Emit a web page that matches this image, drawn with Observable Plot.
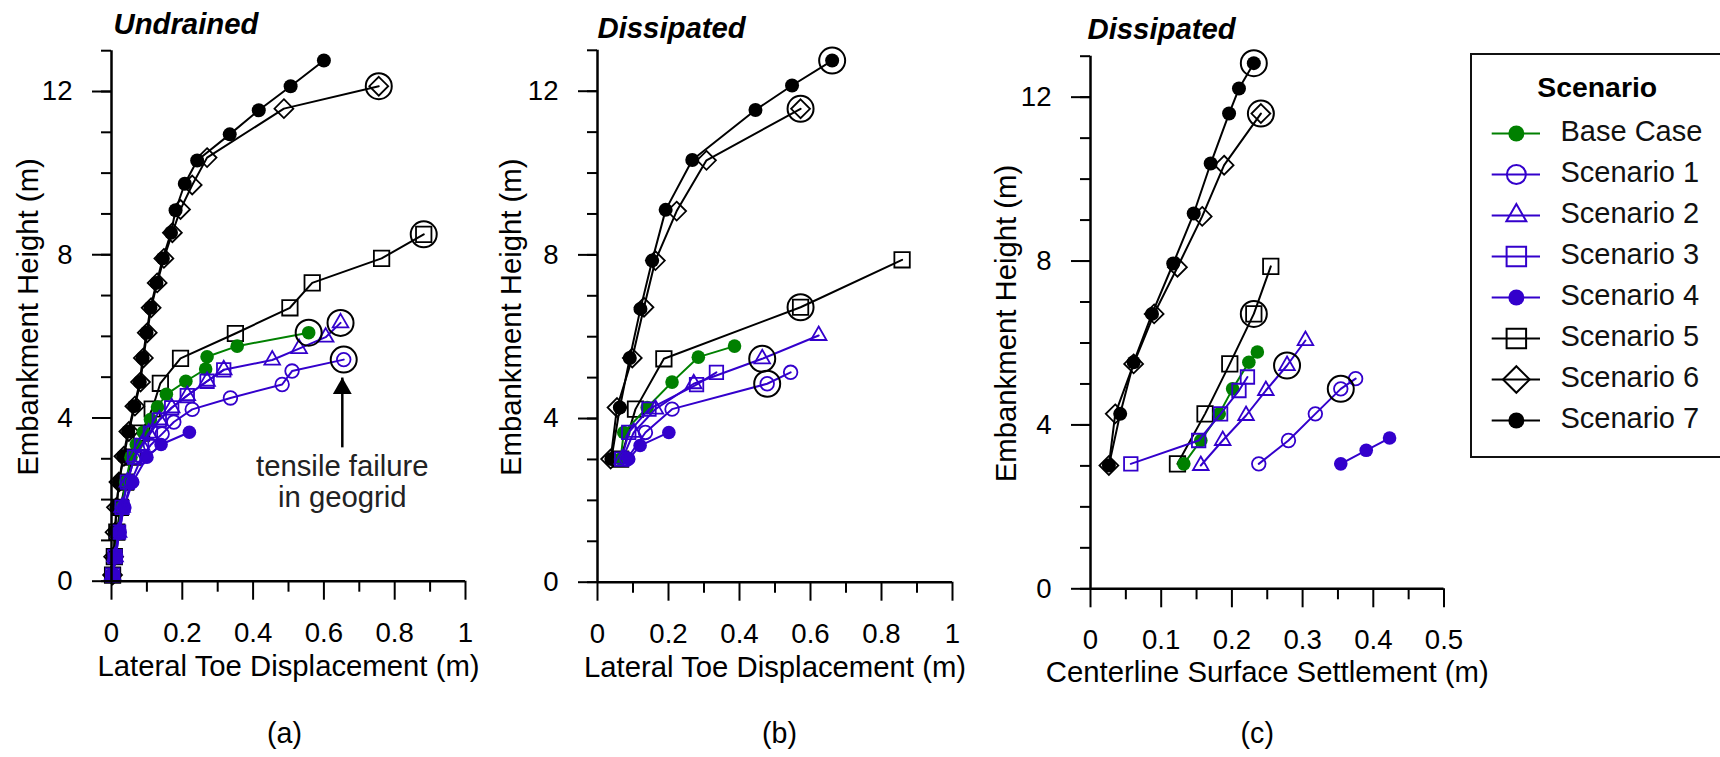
<!DOCTYPE html>
<html>
<head>
<meta charset="utf-8">
<script src="https://cdn.jsdelivr.net/npm/d3@7"></script>
<script src="https://cdn.jsdelivr.net/npm/@observablehq/plot@0.6"></script>
<style>
html, body { margin: 0; padding: 0; background: #fff; overflow: hidden; }
#chart { position: relative; width: 1720px; height: 757px; overflow: hidden; font-family: "Liberation Sans", Arial, sans-serif; }
#chart svg { position: absolute; top: 0; }
#legendBox { position: absolute; left: 1470px; top: 53px; width: 256px; height: 405px; border: 2px solid #111; box-sizing: border-box; }
</style>
</head>
<body>
<div id="chart"><div id="legendBox"></div></div>
<script>
// ---------- categories ----------
const names = ["Base Case", "Scenario 1", "Scenario 2", "Scenario 3", "Scenario 4", "Scenario 5", "Scenario 6", "Scenario 7"];
const colors = ["#008000", "#3300cc", "#3300cc", "#3300cc", "#3300cc", "#000000", "#000000", "#000000"];
const symbols = ["circle", "circle", "triangle", "square", "circle", "square", "diamond2", "circle"];
const filled = [true, false, false, false, true, false, false, true];
const drawOrder = [7, 6, 5, 0, 4, 3, 2, 1];

// ---------- (a) Undrained: lateral toe displacement (m) vs embankment height (m) ----------
const toeUndrained = [
  [[0.003,0.15],[0.01,0.6],[0.018,1.2],[0.028,1.81],[0.04,2.43],[0.055,3.04],[0.07,3.35],[0.09,3.65],[0.11,3.96],[0.13,4.27],[0.155,4.58],[0.21,4.9],[0.266,5.2],[0.27,5.5],[0.355,5.76],[0.557,6.09]],
  [[0.004,0.15],[0.012,0.6],[0.022,1.2],[0.035,1.81],[0.055,2.43],[0.085,3.04],[0.11,3.33],[0.143,3.61],[0.176,3.9],[0.228,4.21],[0.336,4.49],[0.482,4.82],[0.51,5.15],[0.656,5.43]],
  [[0.003,0.15],[0.01,0.6],[0.02,1.2],[0.03,1.81],[0.045,2.43],[0.065,3.04],[0.085,3.33],[0.105,3.63],[0.135,3.95],[0.17,4.25],[0.214,4.55],[0.27,4.9],[0.317,5.18],[0.454,5.42],[0.53,5.7],[0.605,5.98],[0.647,6.33]],
  [[0.003,0.15],[0.01,0.6],[0.02,1.2],[0.03,1.81],[0.045,2.43],[0.065,3.04],[0.085,3.33],[0.11,3.63],[0.135,3.95],[0.17,4.25],[0.214,4.55],[0.27,4.9],[0.317,5.18]],
  [[0.004,0.15],[0.012,0.6],[0.022,1.2],[0.035,1.81],[0.06,2.43],[0.1,3.04],[0.14,3.35],[0.22,3.65]],
  [[0.003,0.15],[0.008,0.6],[0.015,1.2],[0.025,1.81],[0.04,2.43],[0.06,3.04],[0.085,3.63],[0.115,4.22],[0.138,4.85],[0.195,5.46],[0.35,6.07],[0.504,6.7],[0.567,7.31],[0.763,7.91],[0.882,8.5]],
  [[0.003,0.15],[0.006,0.6],[0.01,1.2],[0.014,1.81],[0.021,2.43],[0.035,3.06],[0.049,3.67],[0.066,4.29],[0.082,4.88],[0.09,5.47],[0.101,6.09],[0.112,6.7],[0.129,7.31],[0.148,7.91],[0.172,8.54],[0.195,9.11],[0.228,9.71],[0.27,10.38],[0.487,11.58],[0.755,12.13]],
  [[0.003,0.15],[0.006,0.6],[0.01,1.2],[0.014,1.81],[0.021,2.43],[0.033,3.06],[0.047,3.67],[0.064,4.29],[0.08,4.88],[0.088,5.47],[0.099,6.09],[0.11,6.7],[0.127,7.31],[0.145,7.91],[0.168,8.54],[0.181,9.09],[0.207,9.74],[0.242,10.31],[0.334,10.95],[0.416,11.54],[0.506,12.13],[0.6,12.76]]
];
const failToeUndrained = [[0.755,12.13],[0.882,8.5],[0.557,6.09],[0.647,6.33],[0.656,5.43]];
const noteText = ["tensile failure\nin geogrid"];
const notePos = [0.652, 1.81];
const noteArrow = [0.652, 3.28, 4.99];

// ---------- (b) Dissipated: lateral toe displacement ----------
const toeDissipated = [
  [[0.065,3.01],[0.074,3.66],[0.14,4.27],[0.21,4.89],[0.284,5.5],[0.386,5.77]],
  [[0.083,3.01],[0.135,3.66],[0.21,4.23],[0.478,4.85],[0.544,5.13]],
  [[0.07,3.01],[0.102,3.66],[0.163,4.23],[0.271,4.85],[0.464,5.46],[0.623,6.03]],
  [[0.068,3.01],[0.088,3.66],[0.145,4.23],[0.279,4.83],[0.335,5.13]],
  [[0.088,3.01],[0.12,3.34],[0.201,3.66]],
  [[0.065,3.01],[0.107,4.23],[0.187,5.46],[0.572,6.72],[0.858,7.88]],
  [[0.037,3.01],[0.055,4.27],[0.098,5.48],[0.131,6.72],[0.163,7.86],[0.223,9.07],[0.307,10.31],[0.572,11.57]],
  [[0.039,3.01],[0.063,4.27],[0.091,5.48],[0.121,6.68],[0.154,7.86],[0.192,9.1],[0.267,10.32],[0.445,11.54],[0.548,12.14],[0.661,12.75]]
];
const failToeDissipated = [[0.661,12.75],[0.572,11.57],[0.572,6.72],[0.464,5.46],[0.478,4.85]];

// ---------- (c) Dissipated: centerline surface settlement ----------
const settleDissipated = [
  [[0.132,3.05],[0.156,3.62],[0.182,4.27],[0.201,4.88],[0.224,5.53],[0.236,5.78]],
  [[0.238,3.05],[0.28,3.62],[0.318,4.27],[0.354,4.88],[0.375,5.13]],
  [[0.156,3.01],[0.187,3.62],[0.22,4.23],[0.248,4.84],[0.278,5.45],[0.304,6.06]],
  [[0.057,3.05],[0.153,3.62],[0.184,4.27],[0.21,4.84],[0.222,5.17]],
  [[0.354,3.05],[0.39,3.38],[0.423,3.68]],
  [[0.123,3.05],[0.162,4.27],[0.197,5.49],[0.231,6.71],[0.255,7.87]],
  [[0.026,3.01],[0.035,4.27],[0.061,5.49],[0.09,6.71],[0.123,7.85],[0.158,9.09],[0.189,10.34],[0.241,11.6]],
  [[0.026,3.01],[0.042,4.27],[0.061,5.53],[0.087,6.71],[0.117,7.94],[0.146,9.16],[0.17,10.38],[0.196,11.6],[0.21,12.21],[0.231,12.83]]
];
const failSettleDissipated = [[0.231,12.83],[0.241,11.6],[0.231,6.71],[0.278,5.45],[0.354,4.88]];

// ---------- tick labels ----------
const yMajor = [0, 4, 8, 12];
const yMinor = [0,1,2,3,4,5,6,7,8,9,10,11,12,13];
const toeMajor = [0, 0.2, 0.4, 0.6, 0.8, 1];
const toeMinor = [0.1, 0.3, 0.5, 0.7, 0.9];
const settleMajor = [0, 0.1, 0.2, 0.3, 0.4, 0.5];
const settleMinor = [0.05, 0.15, 0.25, 0.35, 0.45];

const plotR = [6.8, 6.8, 5.8, 7.6, 6.8, 8.7, 8.5, 7];
const legendR = [8, 9.5, 7.4, 11, 8, 11, 12, 8];
const FONT = "'Liberation Sans', Arial, sans-serif";
const TXT = 29.3, TICK = 27.6;

function seriesMarks(series) {
  const marks = [];
  for (const i of drawOrder) {
    const pts = series[i].map(([x, y]) => ({x, y}));
    marks.push(Plot.line(pts, {x: "x", y: "y", stroke: colors[i], strokeWidth: 2}));
    marks.push(Plot.dot(pts, {
      x: "x", y: "y", symbol: symbols[i], r: plotR[i],
      stroke: colors[i], strokeWidth: filled[i] ? 0 : 1.8,
      fill: filled[i] ? colors[i] : "none"
    }));
  }
  return marks;
}

function panel(o) {
  const svg = Plot.plot({
    width: o.width, height: 757,
    marginLeft: o.mL, marginRight: o.mR, marginTop: o.mT, marginBottom: 757 - o.y0,
    x: {domain: o.xDomain, label: null},
    y: {domain: [0, 13], label: null},
    style: {background: "transparent", overflow: "visible", fontFamily: FONT, fontSize: TICK + "px", color: "black"},
    marks: [
      ...seriesMarks(o.series),
      Plot.dot(o.fails.map(([x, y]) => ({x, y})), {x: "x", y: "y", r: 13, stroke: "black", strokeWidth: 2, fill: "none"}),
      ...(o.extra || []),
      Plot.axisY({ticks: yMinor, tickSize: 10, tickFormat: () => "", label: null, strokeWidth: 2}),
      Plot.axisY({ticks: yMajor, tickSize: 19, tickPadding: 20, tickFormat: d => String(d), label: null, fontSize: TICK, strokeWidth: 2}),
      Plot.axisX({ticks: o.xMinor, tickSize: 11, tickFormat: () => "", label: null, strokeWidth: 2}),
      Plot.axisX({ticks: o.xMajor, tickSize: 19, tickPadding: 22, tickFormat: d => String(d), label: null, fontSize: TICK, strokeWidth: 2}),
      Plot.ruleX([0], {y1: 0, y2: 13, strokeWidth: 2.5}),
      Plot.ruleY([0], {x1: o.xDomain[0], x2: o.xDomain[1], strokeWidth: 2.5}),
      Plot.text([o.title], {text: d => d, frameAnchor: "top-left", dx: o.titleDx, dy: o.titleDy, textAnchor: "start", lineAnchor: "bottom", fontWeight: "bold", fontStyle: "italic", fontSize: TXT}),
      Plot.text(["Embankment Height (m)"], {text: d => d, frameAnchor: "left", rotate: -90, dx: o.yLabDx, dy: 1, textAnchor: "middle", lineAnchor: "bottom", fontSize: TXT}),
      Plot.text([o.xLabel], {text: d => d, frameAnchor: "bottom", dy: o.xLabDy, textAnchor: "middle", lineAnchor: "bottom", fontSize: TXT}),
      Plot.text([o.tag], {text: d => d, frameAnchor: "bottom", dx: o.tagDx, dy: o.tagDy, textAnchor: "middle", lineAnchor: "bottom", fontSize: 28.6})
    ]
  });
  svg.style.left = o.left + "px";
  return svg;
}

const chart = document.getElementById("chart");

chart.appendChild(panel({
  series: toeUndrained, fails: failToeUndrained,
  left: 0, width: 490, mL: 111, mR: 25, mT: 50.2, y0: 580.7,
  xDomain: [0, 1], xMajor: toeMajor, xMinor: toeMinor,
  title: "Undrained", titleDx: 2, titleDy: -17.2,
  yLabDx: -74, xLabel: "Lateral Toe Displacement (m)", xLabDy: 95, tag: "(a)", tagDx: -4, tagDy: 162,
  extra: [
    Plot.link([noteArrow], {x1: d => d[0], x2: d => d[0], y1: d => d[1], y2: d => d[2], stroke: "black", strokeWidth: 2.5}),
    Plot.dot([noteArrow], {x: d => d[0], y: d => d[2], symbol: "triangle", r: 7, fill: "black", stroke: "none", dy: 10.9}),
    Plot.text(noteText, {text: d => d, x: () => notePos[0], y: () => notePos[1], textAnchor: "middle", lineAnchor: "bottom", lineHeight: 1.08, fontSize: TXT, fill: "#222"})
  ]
}));

chart.appendChild(panel({
  series: toeDissipated, fails: failToeDissipated,
  left: 490, width: 490, mL: 107, mR: 28, mT: 49.8, y0: 581.7,
  xDomain: [0, 1], xMajor: toeMajor, xMinor: toeMinor,
  title: "Dissipated", titleDx: 0, titleDy: -12.8,
  yLabDx: -77, xLabel: "Lateral Toe Displacement (m)", xLabDy: 95, tag: "(b)", tagDx: 4.5, tagDy: 161
}));

chart.appendChild(panel({
  series: settleDissipated, fails: failSettleDissipated,
  left: 980, width: 540, mL: 110, mR: 76.5, mT: 55.7, y0: 588.3,
  xDomain: [0, 0.5], xMajor: settleMajor, xMinor: settleMinor,
  title: "Dissipated", titleDx: -3, titleDy: -17.4,
  yLabDx: -75, xLabel: "Centerline Surface Settlement (m)", xLabDy: 93, tag: "(c)", tagDx: -10, tagDy: 154.4
}));

// ---------- legend ----------
const legend = Plot.plot({
  width: 250, height: 405,
  marginLeft: 21.7, marginRight: 180, marginTop: 77, marginBottom: 35.4,
  y: {type: "point", domain: names, padding: 0, axis: null},
  style: {background: "transparent", overflow: "visible", fontFamily: FONT, fontSize: "29px", color: "black"},
  marks: [
    ...names.map((n, i) => Plot.ruleY([n], {y: d => d, stroke: colors[i], strokeWidth: 2})),
    ...names.map((n, i) => Plot.dot([n], {y: d => d, symbol: symbols[i], r: legendR[i],
      stroke: colors[i], strokeWidth: filled[i] ? 0 : 2, fill: filled[i] ? colors[i] : "none"})),
    Plot.text(names, {y: d => d, text: d => d, frameAnchor: "right", dx: 20, dy: -1.5, textAnchor: "start", lineAnchor: "middle", fontSize: 29, fill: "#111"}),
    Plot.text(["Scenario"], {text: d => d, frameAnchor: "top-left", dx: 105, dy: -33.3, textAnchor: "middle", lineAnchor: "bottom", fontWeight: "bold", fontSize: 28.4})
  ]
});
legend.style.left = "1470px";
legend.style.top = "53px";
chart.appendChild(legend);
</script>
</body>
</html>
